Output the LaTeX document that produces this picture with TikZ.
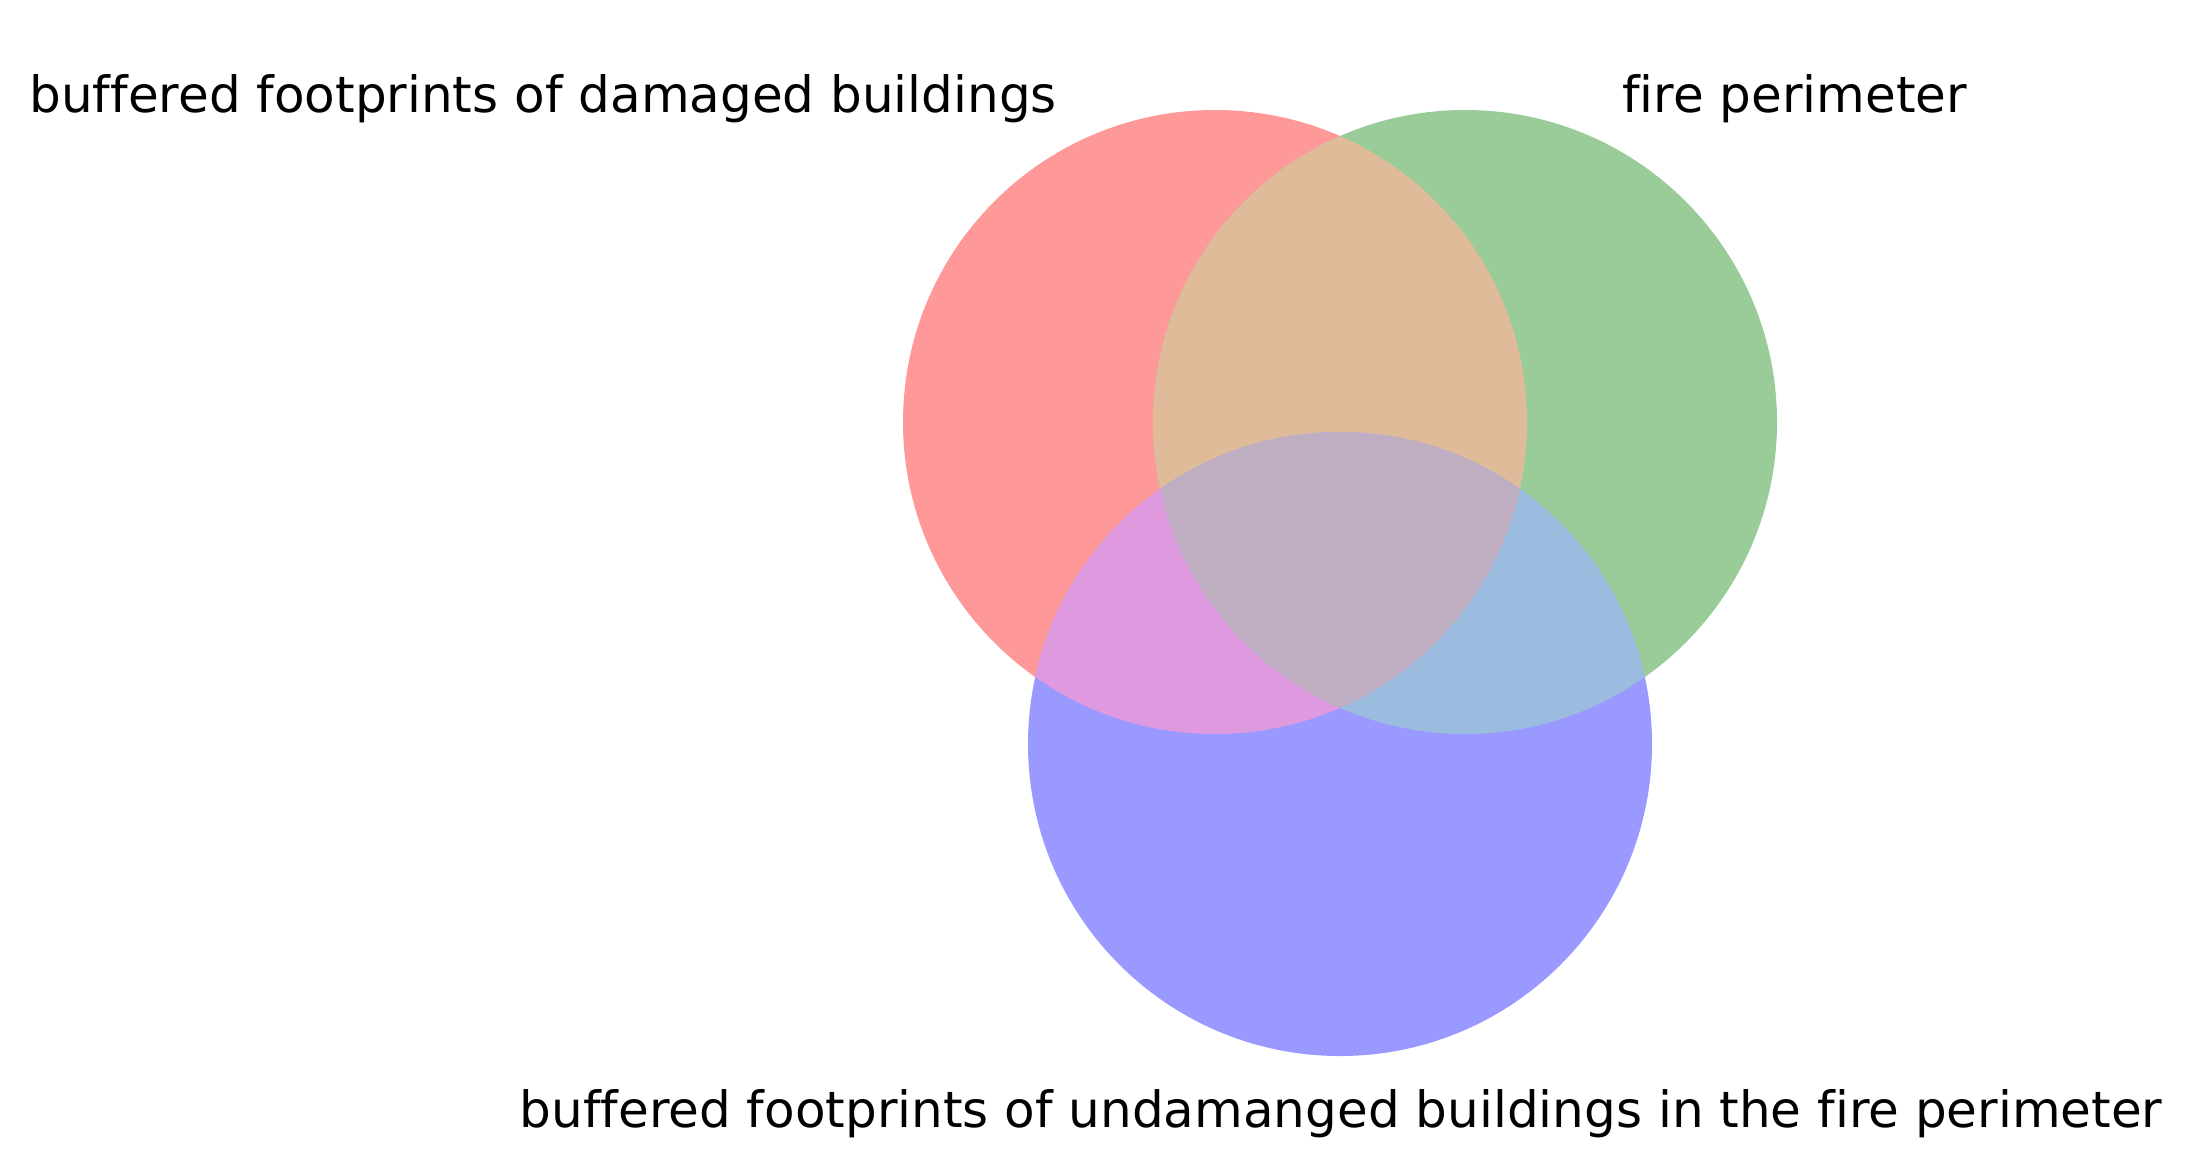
\documentclass[tikz,border=0pt]{standalone}
\usepackage{fontspec}
\setmainfont[Ligatures={NoCommon}]{DejaVu Sans}
\definecolor{cR}{RGB}{255,153,153}
\definecolor{cG}{RGB}{153,204,153}
\definecolor{cB}{RGB}{153,153,255}
\definecolor{cRG}{RGB}{223,187,153}
\definecolor{cRB}{RGB}{223,153,223}
\definecolor{cGB}{RGB}{155,187,223}
\definecolor{cRGB}{RGB}{191,173,194}
\tikzset{
  setlabel/.style={inner sep=0pt, font=\fontsize{50}{60}\selectfont, text=black}
}
\begin{document}
\begin{tikzpicture}[x=1pt,y=-1pt]
\useasboundingbox (0,0) rectangle (2192,1168);
\fill[white] (0,0) rectangle (2192,1168);
\coordinate (A) at (1215,422);
\coordinate (B) at (1465,422);
\coordinate (C) at (1340,744);
\def\R{312pt}
% single sets
\fill[cR] (A) circle[radius=\R];
\fill[cG] (B) circle[radius=\R];
\fill[cB] (C) circle[radius=\R];
% pairwise overlaps
\begin{scope}
  \clip (A) circle[radius=\R];
  \fill[cRG] (B) circle[radius=\R];
  \fill[cRB] (C) circle[radius=\R];
\end{scope}
\begin{scope}
  \clip (B) circle[radius=\R];
  \fill[cGB] (C) circle[radius=\R];
\end{scope}
% triple overlap
\begin{scope}
  \clip (A) circle[radius=\R];
  \clip (B) circle[radius=\R];
  \fill[cRGB] (C) circle[radius=\R];
\end{scope}
% labels
\node[setlabel, anchor=base east] (la) at (1057,112) {buffered footprints of damaged buildings};
\node[setlabel, anchor=base west] (lb) at (1622,112) {fire perimeter};
\node[setlabel, anchor=base] (lc) at (1341,1127) {buffered footprints of undamanged buildings in the fire perimeter};
\end{tikzpicture}
\end{document}
